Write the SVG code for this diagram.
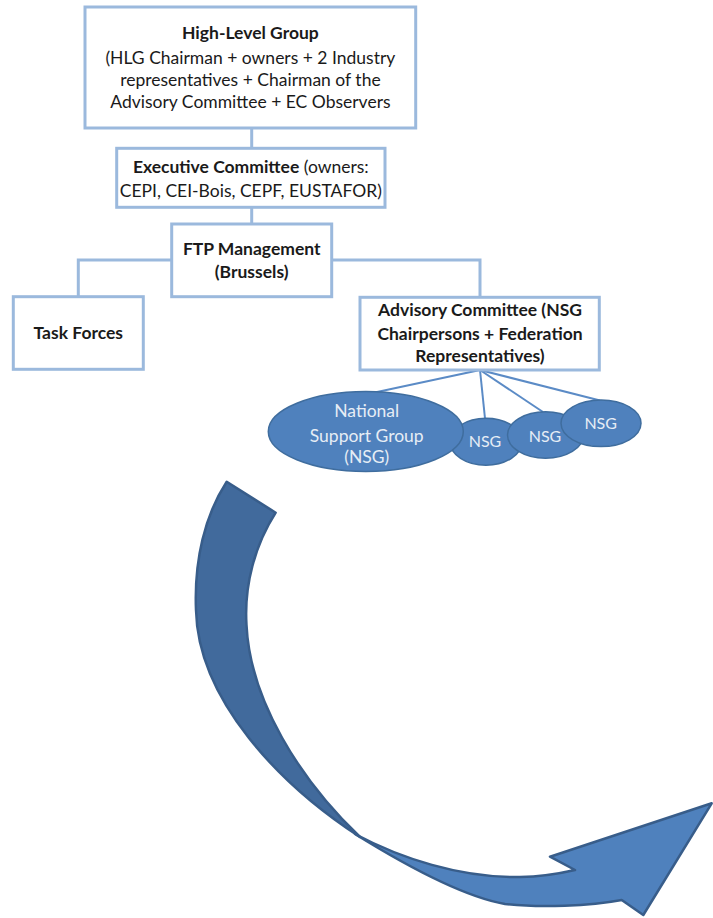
<svg xmlns="http://www.w3.org/2000/svg" width="713" height="918" viewBox="0 0 713 918">
<style>
.box{fill:#ffffff;stroke:#9bb9dd;stroke-width:3}
.conn{fill:none;stroke:#9bb9dd;stroke-width:3}
.t{font-family:Lato,"Liberation Sans",sans-serif;font-size:17.5px;fill:#1a1a1a;text-anchor:middle}
.b{font-weight:bold}
.ell{fill:#4f81bd;stroke:#3f6d9e;stroke-width:1.5}
.et{font-family:Lato,"Liberation Sans",sans-serif;font-size:17.5px;fill:#e6edf5;text-anchor:middle}
.es{font-size:16px}
.nl{fill:none;stroke:#5b8bc6;stroke-width:2}
.arrowback{fill:#416a9c;stroke:#385d8a;stroke-width:2.5;stroke-linejoin:round}
.arrowfront{fill:#4f81bd;stroke:#385d8a;stroke-width:2.5;stroke-linejoin:round}
</style>
<g id="connectors">
<path class="conn" d="M251.7,128 V148"/>
<path class="conn" d="M251.7,207 V224"/>
<path class="conn" d="M171.7,260 H78.3 V296.7"/>
<path class="conn" d="M331.7,260 H480 V297.3"/>
<path class="nl" d="M480,370 L370,393.5"/>
<path class="nl" d="M480,370 L485,418.5"/>
<path class="nl" d="M480,370 L543,412"/>
<path class="nl" d="M480,370 L600,400.5"/>
</g>
<g id="hlg">
<rect class="box" x="85" y="7" width="330.7" height="121"/>
<text class="t b" x="250.4" y="39">High-Level Group</text>
<text class="t" x="250.4" y="64">(HLG Chairman + owners + 2 Industry</text>
<text class="t" x="250.4" y="86">representatives + Chairman of the</text>
<text class="t" x="250.4" y="108">Advisory Committee + EC Observers</text>
</g>
<g id="exec">
<rect class="box" x="116.7" y="148.3" width="268.3" height="59"/>
<text class="t" x="250.8" y="173.3"><tspan class="b">Executive Committee</tspan> (owners:</text>
<text class="t" x="250.8" y="196.7">CEPI, CEI-Bois, CEPF, EUSTAFOR)</text>
</g>
<g id="ftp">
<rect class="box" x="171.7" y="224" width="160" height="72.7"/>
<text class="t b" x="251.7" y="255">FTP Management</text>
<text class="t b" x="251.7" y="278.3">(Brussels)</text>
</g>
<g id="taskforces">
<rect class="box" x="13.3" y="296.7" width="130" height="72.6"/>
<text class="t b" x="78.3" y="339.3">Task Forces</text>
</g>
<g id="advisory">
<rect class="box" x="360" y="297.3" width="239.3" height="72.7"/>
<text class="t b" x="480" y="316">Advisory Committee (NSG</text>
<text class="t b" x="480" y="340">Chairpersons + Federation</text>
<text class="t b" x="480" y="361.7">Representatives)</text>
</g>
<g id="nsg1">
<ellipse class="ell" cx="486" cy="441.7" rx="36" ry="23.5"/>
<text class="et es" x="485" y="446.7">NSG</text>
</g>
<g id="nsg-main">
<ellipse class="ell" cx="365.8" cy="431.5" rx="97.5" ry="40"/>
<text class="et" x="366.7" y="416.7">National</text>
<text class="et" x="366.7" y="441.7">Support Group</text>
<text class="et" x="366.7" y="463.3">(NSG)</text>
</g>
<g id="nsg2">
<ellipse class="ell" cx="545.5" cy="435" rx="38" ry="23.3"/>
<text class="et es" x="545" y="441.7">NSG</text>
</g>
<g id="nsg3">
<ellipse class="ell" cx="601" cy="423.3" rx="40" ry="23.3"/>
<text class="et es" x="600.7" y="429.3">NSG</text>
</g>
<g id="curved-arrow">
<path class="arrowback" d="M226.7,481.7 L275.7,512.7 C255,545 244,585 246.5,625 C250,700 300,780 360,837 C280,785 198,700 196,610 C194,560 205,515 226.7,481.7 Z"/>
<path class="arrowfront" d="M355,834 C400,858 460,878 520,877 C545,876.7 562,873 575,870 L550,856.7 L711.7,803.3 L643.3,915 L621.7,900 C590,906 540,908 505,904 C465,897 405,865 355,834 Z"/>
</g>
</svg>
